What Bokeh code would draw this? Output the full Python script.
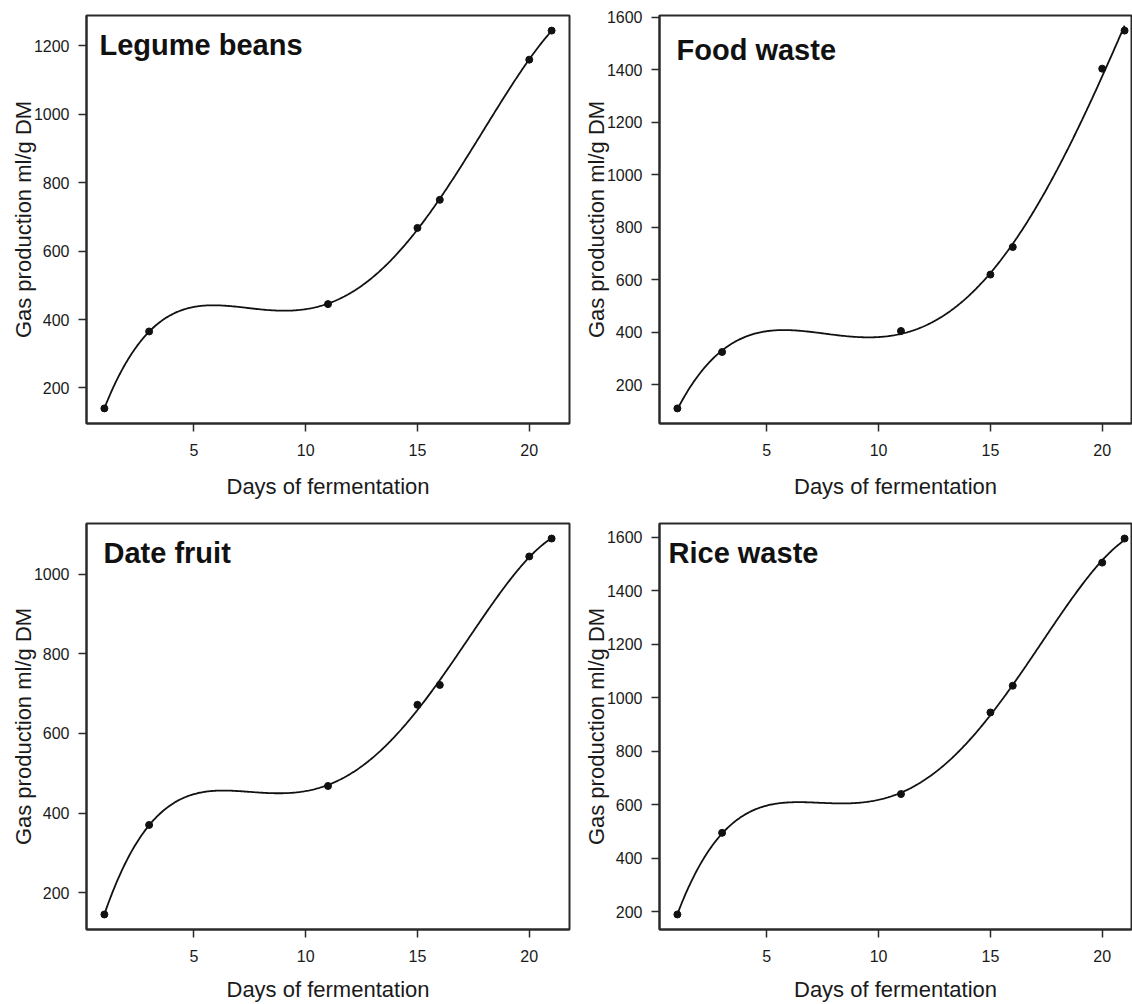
import numpy as np
from bokeh.plotting import figure
from bokeh.models import FixedTicker, Label, Range1d
from bokeh.layouts import column, row
from bokeh.embed import file_html
from bokeh.resources import INLINE

# ---------------- data ----------------
days = [1, 3, 11, 15, 16, 20, 21]
legume_beans = [140, 365, 445, 668, 750, 1160, 1245]
food_waste = [110, 325, 405, 620, 725, 1405, 1550]
date_fruit = [145, 370, 468, 672, 722, 1045, 1090]
rice_waste = [190, 495, 640, 945, 1045, 1505, 1595]

x_ticks = [5, 10, 15, 20]
legume_y_ticks = [200, 400, 600, 800, 1000, 1200]
food_y_ticks = [200, 400, 600, 800, 1000, 1200, 1400, 1600]
date_y_ticks = [200, 400, 600, 800, 1000]
rice_y_ticks = [200, 400, 600, 800, 1000, 1200, 1400, 1600]

titles = ["Legume beans", "Food waste", "Date fruit", "Rice waste"]
x_label = "Days of fermentation"
y_label = "Gas production ml/g DM"

FONT = "Liberation Sans"
INK = "#1a1a1a"


def poly_fit_curve(x, y, degree=4, n=400):
    """Least-squares polynomial trend line (degree 4), drawn over the data span."""
    coef = np.polyfit(x, y, degree)
    xs = np.linspace(min(x), max(x), n)
    return xs, np.polyval(coef, xs)


def panel(values, yticks, title, left_col, top_row, title_dx, title_dy):
    if left_col:
        width, bl, br = 575, 86, 6
        x_end = 21.8
    else:
        width, bl, br = 557, 84, 1
        x_end = 21.31
    if top_row:
        height, bt, bb = 502, 15, 79
        xlab_standoff = 15
    else:
        height, bt, bb = 502, 21, 72
        xlab_standoff = 12
    frame_h = height - bt - bb
    frame_w = width - bl - br

    lo, hi = min(values), max(values)
    pad = 0.04 * (hi - lo)
    y0, y1 = lo - pad, hi + pad
    x0 = 0.2

    p = figure(width=width, height=height, output_backend="svg", toolbar_location=None,
               x_range=Range1d(x0, x_end), y_range=Range1d(y0, y1),
               min_border_left=bl, min_border_right=br, min_border_top=bt, min_border_bottom=bb)
    p.grid.visible = False
    p.outline_line_color = "#2a2a2a"
    p.outline_line_width = 2
    p.background_fill_color = "white"
    p.border_fill_color = "white"

    for ax in (p.xaxis[0], p.yaxis[0]):
        ax.axis_line_color = "#2a2a2a"
        ax.axis_line_width = 2
        ax.major_tick_line_color = "#2a2a2a"
        ax.major_tick_line_width = 1.5
        ax.major_tick_in = 0
        ax.major_tick_out = 8
        ax.minor_tick_line_color = None
        ax.major_label_text_font = FONT
        ax.major_label_text_font_size = "16px"
        ax.major_label_text_color = INK
        ax.axis_label_text_font = FONT
        ax.axis_label_text_font_size = "22px"
        ax.axis_label_text_font_style = "normal"
        ax.axis_label_text_color = INK

    p.xaxis.ticker = FixedTicker(ticks=x_ticks)
    p.yaxis.ticker = FixedTicker(ticks=yticks)
    p.xaxis.axis_label = x_label
    p.yaxis.axis_label = y_label
    p.xaxis.major_label_standoff = 12
    p.yaxis.major_label_standoff = 9
    p.xaxis.axis_label_standoff = xlab_standoff
    p.yaxis.axis_label_standoff = -5
    p.yaxis.major_label_orientation = "horizontal"

    xs, ys = poly_fit_curve(days, values)
    p.line(xs, ys, line_color="#111111", line_width=1.8)
    p.scatter(days, values, size=7, fill_color="#111111", line_color="#111111")

    tx = x0 + title_dx / frame_w * (x_end - x0)
    ty = y1 - title_dy / frame_h * (y1 - y0)
    p.add_layout(Label(x=tx, y=ty, text=title, text_font=FONT, text_font_size="29px",
                       text_font_style="bold", text_color="#111111",
                       text_baseline="alphabetic", text_align="left"))
    return p


p1 = panel(legume_beans, legume_y_ticks, titles[0], True, True, 13, 29)
p2 = panel(food_waste, food_y_ticks, titles[1], False, True, 17, 34)
p3 = panel(date_fruit, date_y_ticks, titles[2], True, False, 17, 30)
p4 = panel(rice_waste, rice_y_ticks, titles[3], False, False, 9, 30)

layout = column(row(p1, p2), row(p3, p4))
open("out.html", "w").write(file_html(layout, INLINE))
